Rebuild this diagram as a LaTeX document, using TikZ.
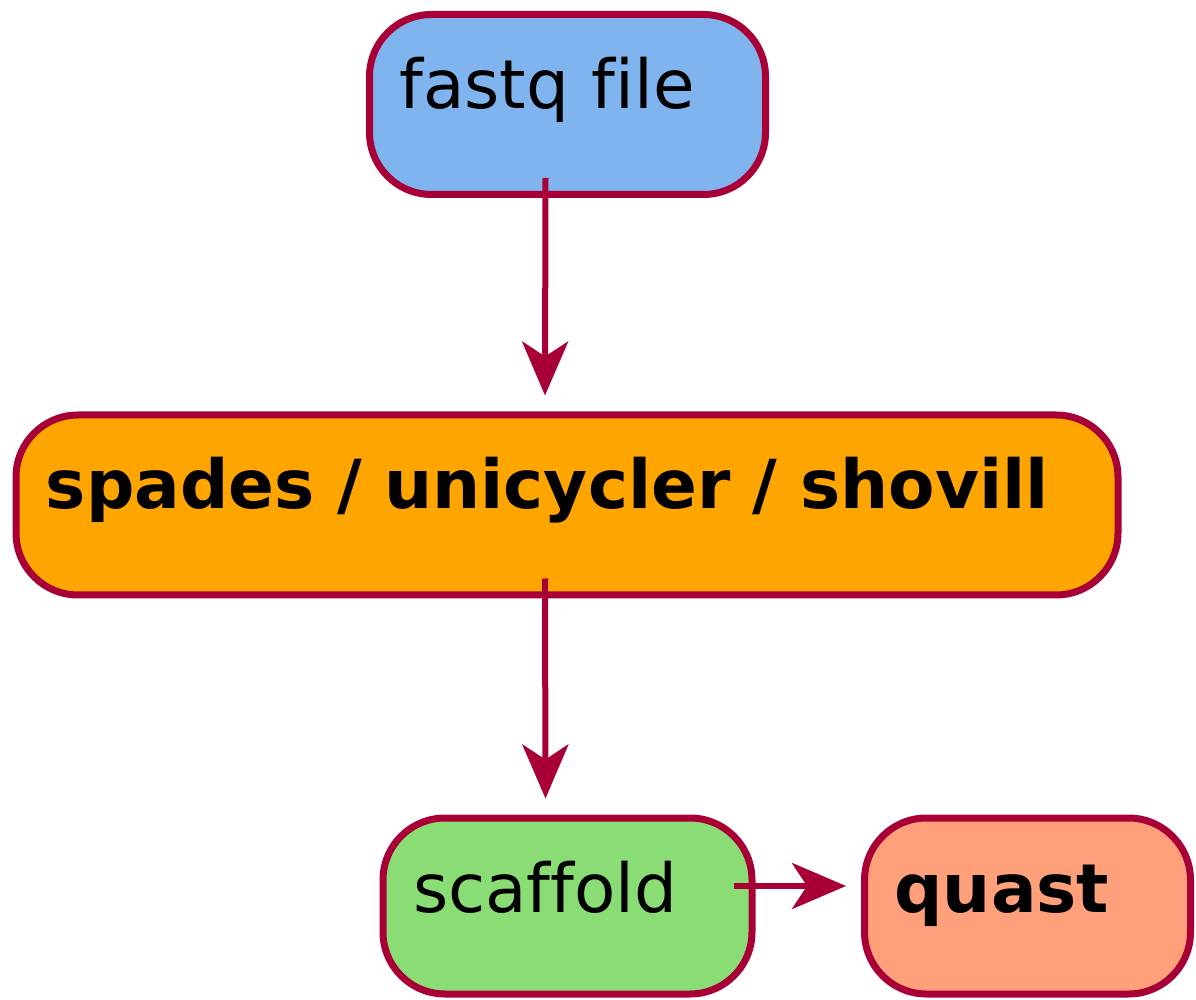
\documentclass[tikz,border=0pt]{standalone}
\usepackage{fontspec}
\setmainfont{DejaVu Sans}[Ligatures=CommonOff]
\usetikzlibrary{arrows.meta}
\definecolor{umlred}{HTML}{A80036}
\definecolor{fastqblue}{HTML}{80B4EE}
\definecolor{asmorange}{HTML}{FFA500}
\definecolor{scafgreen}{HTML}{8ADD74}
\definecolor{quastsalmon}{HTML}{FFA07A}
\begin{document}
\begin{tikzpicture}[x=0.5pt,y=-0.5pt,
   act/.style={draw=umlred,line width=3.5pt,rounded corners=31pt,inner xsep=15pt,inner ysep=0pt,
     align=left,text height=47pt,text depth=43pt,font=\fontsize{33.8}{40}\selectfont},
   flow/.style={draw=umlred,line width=3pt,-{Stealth[length=27pt,width=23pt,inset=7.5pt]}}]
   \useasboundingbox (0,0) rectangle (1196,1000);
   %boxes
   \node[act,fill=fastqblue,minimum width=198pt,text width=168pt] (fastq) at (567.5,104.5) {fastq file};
   \node[act,fill=asmorange,minimum width=551pt,text width=521pt] (spades) at (567,505) {\textbf{spades / unicycler / shovill}};
   \node[act,fill=scafgreen,minimum width=184.5pt,text width=154.5pt,text depth=41pt] (scaffold) at (567.5,906) {scaffold};
   \node[act,fill=quastsalmon,minimum width=163pt,text width=133pt,text depth=41pt] (quast) at (1027.5,906) {\textbf{quast}};
   %arrows
   \draw[flow] ([xshift=-11pt,yshift=10pt]fastq.south) -- ([xshift=-11pt,yshift=8pt]spades.north);
   \draw[flow] ([xshift=-11pt,yshift=10pt]spades.south) -- ([xshift=-11pt,yshift=8pt]scaffold.north);
   \draw[flow] ([xshift=-11pt,yshift=10pt]scaffold.east) -- ([xshift=-7.5pt,yshift=10pt]quast.west);
\end{tikzpicture}
\end{document}
